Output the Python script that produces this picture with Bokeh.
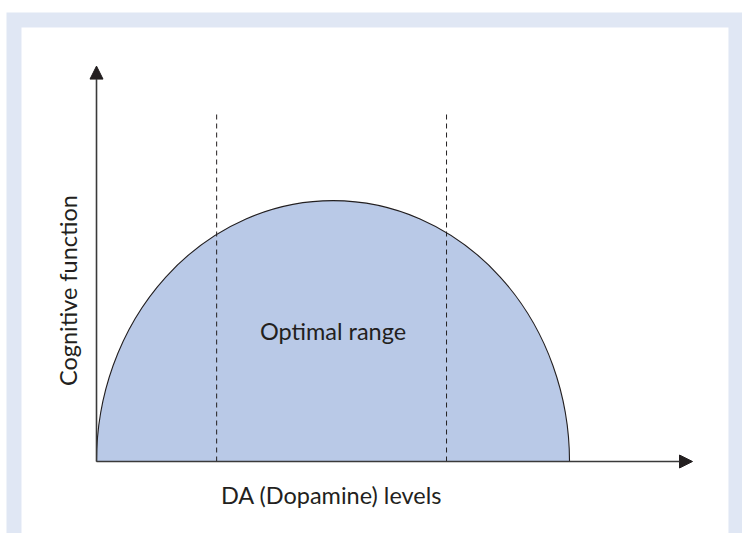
import math
from bokeh.plotting import figure
from bokeh.models import Range1d, BoxAnnotation, Arrow, NormalHead, Label, ColumnDataSource
from bokeh.embed import file_html
from bokeh.resources import INLINE

# ---- conceptual data ----
curve_center_x = [5.0]      # DA level of peak cognitive function
curve_peak = [10.0]         # peak cognitive function
curve_width = [10.0]        # DA span of the inverted-U
optimal_bounds = [2.54, 7.40]   # dashed lines bounding optimal range
dash_top = [13.3, 13.3]
x_axis_len = 12.6
y_axis_len = 15.15
labels = {"x": "DA (Dopamine) levels", "y": "Cognitive function", "mid": "Optimal range"}

FONT = "Lato"
FSIZE = "23.5px"
TXT = "#231f20"
FILL = "#b9c9e7"
FRAME = "#e0e7f4"

p = figure(width=742, height=533, output_backend="svg", toolbar_location=None,
           x_range=Range1d(-2.0296, 13.657), y_range=Range1d(-2.7586, 17.663),
           min_border=0, min_border_left=0, min_border_right=0,
           min_border_top=0, min_border_bottom=0)
p.xaxis.visible = False
p.yaxis.visible = False
p.grid.visible = False
p.outline_line_color = None
p.background_fill_color = "white"
p.border_fill_color = "white"

# frame decoration
p.add_layout(BoxAnnotation(top=17.20, left=-1.903, fill_color=FRAME, fill_alpha=1,
                           line_color=None, level="underlay"))
p.add_layout(BoxAnnotation(top=16.63, left=-1.586, right=13.36, fill_color="white", fill_alpha=1,
                           line_color=None, level="underlay"))

# inverted-U curve (upper half of an ellipse)
src = ColumnDataSource(dict(x=curve_center_x, y=[0.0], w=curve_width, h=[2 * v for v in curve_peak]))
p.ellipse(x="x", y="y", width="w", height="h", source=src, fill_color=FILL, fill_alpha=1,
          line_color=TXT, line_width=1.1)
# hide lower half
p.add_layout(BoxAnnotation(top=0, left=-0.5, right=10.5, fill_color="white", fill_alpha=1,
                           line_color=None))

# dashed bounds of optimal range
p.segment(x0=optimal_bounds, y0=[0, 0], x1=optimal_bounds, y1=dash_top,
          line_color=TXT, line_width=1, line_dash="5 4")

# axes with arrows
p.add_layout(Arrow(end=NormalHead(size=13, fill_color=TXT, line_color=TXT, line_width=1),
                   x_start=0, y_start=0, x_end=x_axis_len, y_end=0,
                   line_color="#3a3a3a", line_width=1.6))
p.add_layout(Arrow(end=NormalHead(size=13, fill_color=TXT, line_color=TXT, line_width=1),
                   x_start=0, y_start=0, x_end=0, y_end=y_axis_len,
                   line_color="#3a3a3a", line_width=1.6))

# texts
p.add_layout(Label(x=5.0, y=5.0, text=labels["mid"], text_font=FONT, text_font_size=FSIZE,
                   text_color=TXT, text_align="center", text_baseline="middle"))
p.add_layout(Label(x=4.97, y=-1.30, text=labels["x"], text_font=FONT, text_font_size=FSIZE,
                   text_color=TXT, text_align="center", text_baseline="middle"))
p.add_layout(Label(x=-0.613, y=6.55, text=labels["y"], text_font=FONT, text_font_size=FSIZE,
                   text_color=TXT, text_align="center", text_baseline="middle", angle=math.pi / 2))

open("out.html", "w").write(file_html(p, INLINE))
